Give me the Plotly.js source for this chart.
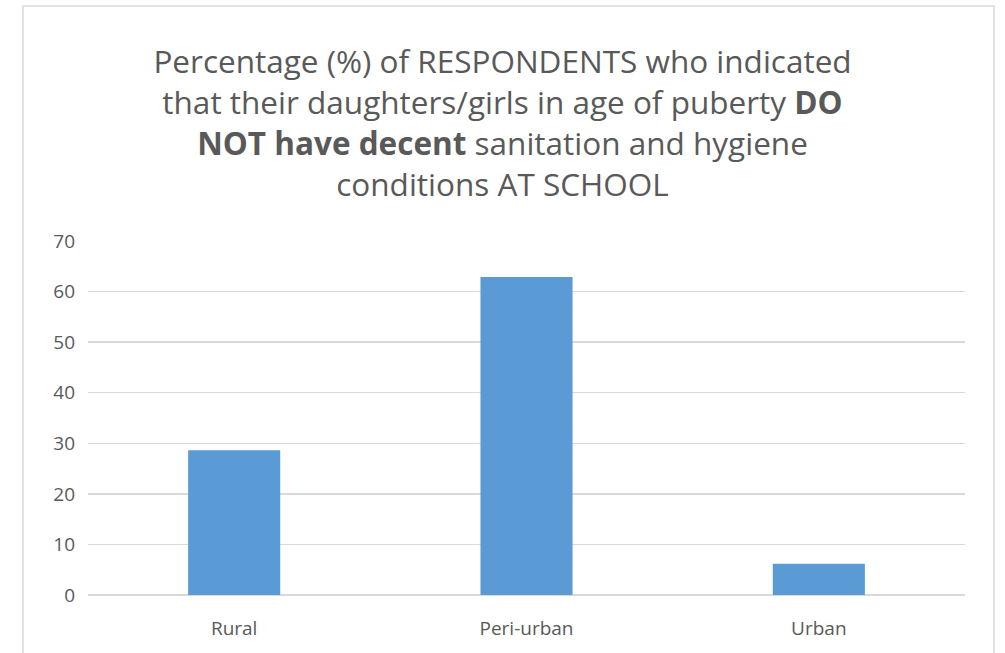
<!DOCTYPE html>
<html>
<head>
<meta charset="utf-8">
<script src="https://cdn.plot.ly/plotly-3.0.1.min.js"></script>
<style>
html,body{margin:0;padding:0;background:#fff;}
#chart{width:1005px;height:653px;}
</style>
</head>
<body>
<div id="chart"></div>
<script>
var categories = ["Rural", "Peri-urban", "Urban"];
var values = [28.6, 62.9, 6.2];
var yTicks = [0, 10, 20, 30, 40, 50, 60, 70];

var titleText = "Percentage (%) of RESPONDENTS who indicated<br>that their daughters/girls in age of puberty <b>DO</b><br><b>NOT have decent</b> sanitation and hygiene<br>conditions AT SCHOOL";

var trace = {
  type: "bar",
  x: categories,
  y: values,
  marker: {color: "#5b9bd5"},
  hoverinfo: "x+y"
};

var layout = {
  width: 1005,
  height: 653,
  paper_bgcolor: "#ffffff",
  plot_bgcolor: "#ffffff",
  margin: {l: 88, r: 40, t: 241, b: 58},
  font: {family: "Open Sans, sans-serif", color: "#595959"},
  title: {
    text: titleText,
    x: 0.5,
    xanchor: "center",
    y: 0.888,
    yanchor: "top",
    font: {family: "Open Sans, sans-serif", size: 31.5, color: "#595959"}
  },
  bargap: 0.685,
  showlegend: false,
  xaxis: {
    showgrid: false,
    showline: false,
    ticks: "",
    tickfont: {size: 19, color: "#595959"},
    ticklabelstandoff: 20
  },
  yaxis: {
    range: [0, 70],
    tickvals: yTicks,
    ticktext: yTicks.map(String),
    showgrid: true,
    gridcolor: "#d9d9d9",
    gridwidth: 1.5,
    zeroline: true,
    zerolinecolor: "#d9d9d9",
    zerolinewidth: 1.5,
    showline: false,
    ticks: "",
    tickfont: {size: 19, color: "#595959"},
    ticklabelstandoff: 12
  },
  shapes: [{
    type: "rect",
    xref: "paper", yref: "paper",
    x0: (23 - 88) / 877, x1: (994 - 88) / 877,
    y0: (595 - 700) / 354, y1: (595 - 6) / 354,
    line: {color: "#d9d9d9", width: 1.5},
    fillcolor: "rgba(0,0,0,0)",
    layer: "below"
  }]
};

Plotly.newPlot("chart", [trace], layout, {displayModeBar: false, staticPlot: true});
</script>
</body>
</html>
